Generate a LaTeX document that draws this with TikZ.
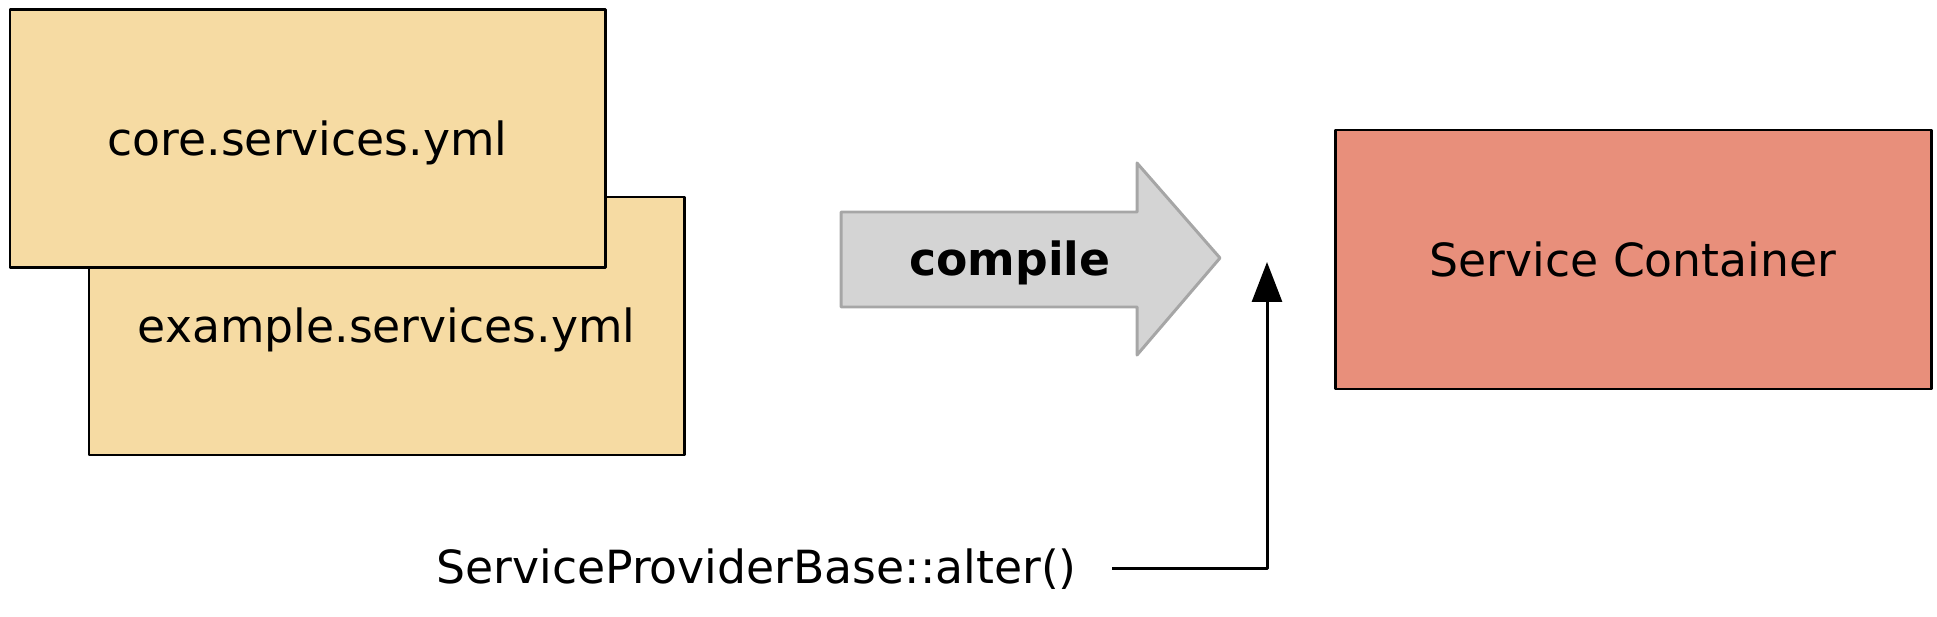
\documentclass[tikz,border=0pt]{standalone}
\usepackage{fontspec}
\setmainfont{DejaVu Sans}
\usetikzlibrary{arrows.meta,positioning}

\definecolor{ymlfill}{HTML}{F6DBA3}
\definecolor{containerfill}{HTML}{E88F7B}
\definecolor{compilefill}{HTML}{D4D4D4}
\definecolor{compiledraw}{HTML}{A6A6A6}

\begin{document}
\begin{tikzpicture}[>=Latex,
  filebox/.style={draw=black,line width=1.7pt,line join=round,fill=ymlfill,minimum width=11.9cm,minimum height=5.16cm,inner sep=0pt,text height=0.68cm,text depth=0cm,font=\fontsize{26}{31}\selectfont},
  plaintext/.style={inner sep=0pt,font=\fontsize{26}{31}\selectfont}]
\useasboundingbox (0,0) rectangle (38.74,12.32);
% yml files
\node[filebox] (yml_example) at (7.73,5.8) {example.services.yml};
\node[filebox] (yml_core) at (6.15,9.55) {core.services.yml};
% compile step
\draw[draw=compiledraw,fill=compilefill,line width=1.7pt,line join=round]
  (16.82,8.08) -- (22.74,8.08) -- (22.74,9.06) -- (24.4,7.16) -- (22.74,5.22) -- (22.74,6.18) -- (16.82,6.18) -- cycle;
\node[plaintext,anchor=base,font=\fontsize{26}{31}\selectfont\bfseries] (compile) at (20.2,6.8) {compile};
% result
\node[filebox,fill=containerfill,minimum width=11.92cm,minimum height=5.18cm] (container) at (32.66,7.13) {Service Container};
% alter hook
\node[plaintext,anchor=base east] (alter) at (21.54,0.66) {ServiceProviderBase::alter()};
\coordinate (inject) at (25.34,7.08);
\draw[-{Triangle[length=8mm,width=6mm]},line width=1.7pt,line join=round] ([xshift=7mm]alter.east) -| (inject);
\end{tikzpicture}
\end{document}
